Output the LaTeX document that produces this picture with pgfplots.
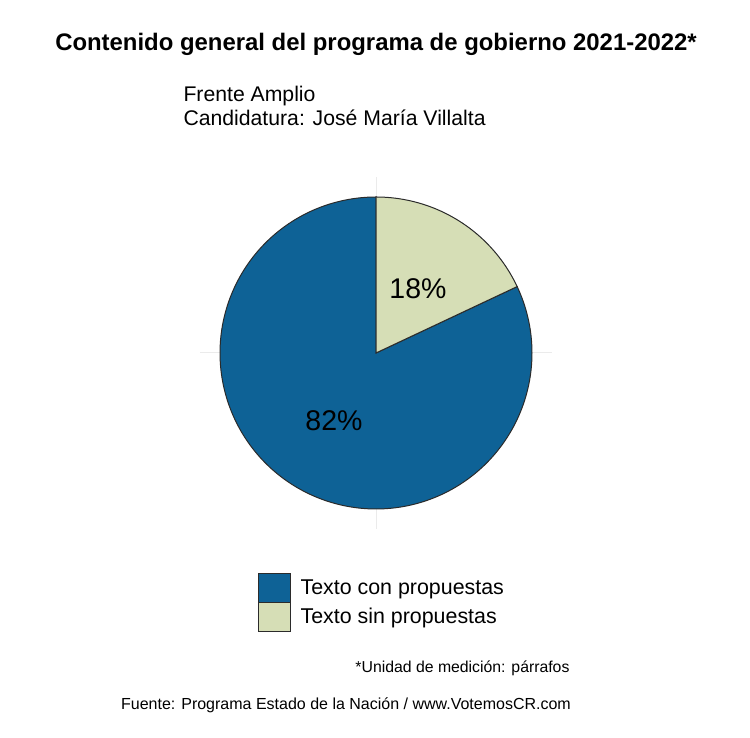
\documentclass[border=0pt]{standalone}
\usepackage{pgfplots}
\pgfplotsset{compat=1.18}
\usepackage{fontspec}
\setmainfont{Liberation Sans}
\definecolor{cblue}{HTML}{0E6296}
\definecolor{clight}{HTML}{D6DEB6}
\definecolor{cgrid}{HTML}{EBEBEB}
\definecolor{cedge}{HTML}{2B2B2B}
% share (percent) of each slice
\def\pA{82}
\def\pB{18}
\begin{document}
\begin{tikzpicture}
\begin{axis}[
  scale only axis, width=750pt, height=738pt,
  xmin=0, xmax=750, ymin=0, ymax=738,
  hide axis, clip=false,
]
% panel grid (polar coord)
\draw[cgrid, line width=1pt] (axis cs:200,385) -- (axis cs:552,385);
\draw[cgrid, line width=1pt] (axis cs:376,209) -- (axis cs:376,561);
% slices: Texto sin propuestas (18%) clockwise from the top, then Texto con propuestas (82%)
\addplot[fill=cblue, draw=cedge, line width=1pt, domain={90-3.6*\pB}:{90-3.6*\pB-3.6*\pA}, samples=200, variable=\t]
  ({376+156*cos(t)},{385+156*sin(t)}) -- (axis cs:376,385) -- cycle;
\addplot[fill=clight, draw=cedge, line width=1pt, domain=90:{90-3.6*\pB}, samples=80, variable=\t]
  ({376+156*cos(t)},{385+156*sin(t)}) -- (axis cs:376,385) -- cycle;
% slice labels
\node[font=\fontsize{28.5}{32}\selectfont] at (axis cs:418,449) {18\%};
\node[font=\fontsize{28.5}{32}\selectfont] at (axis cs:334,317) {82\%};
% titles
\node[font=\fontsize{23.9}{26}\selectfont\bfseries] at (axis cs:376,694) {Contenido general del programa de gobierno 2021-2022*};
\node[font=\fontsize{21.2}{24}\selectfont, anchor=west] at (axis cs:180,642) {Frente Amplio};
\node[font=\fontsize{21.2}{24}\selectfont, anchor=west] at (axis cs:180,620) {Candidatura: José María Villalta};
% legend
\draw[cedge, fill=cblue, line width=1pt] (axis cs:258,164) rectangle (axis cs:290,135);
\draw[cedge, fill=clight, line width=1pt] (axis cs:258,135) rectangle (axis cs:290,106);
\node[font=\fontsize{21.4}{24}\selectfont, anchor=west] at (axis cs:297,149) {Texto con propuestas};
\node[font=\fontsize{21.4}{24}\selectfont, anchor=west] at (axis cs:297,120) {Texto sin propuestas};
% captions
\node[font=\fontsize{15.8}{18}\selectfont, anchor=east] at (axis cs:573,70) {*Unidad de medición: párrafos};
\node[font=\fontsize{16}{18}\selectfont] at (axis cs:346,33) {Fuente: Programa Estado de la Nación / www.VotemosCR.com};
\path[use as bounding box] (rel axis cs:0,0) rectangle (rel axis cs:1,1);
\end{axis}
\end{tikzpicture}
\end{document}
